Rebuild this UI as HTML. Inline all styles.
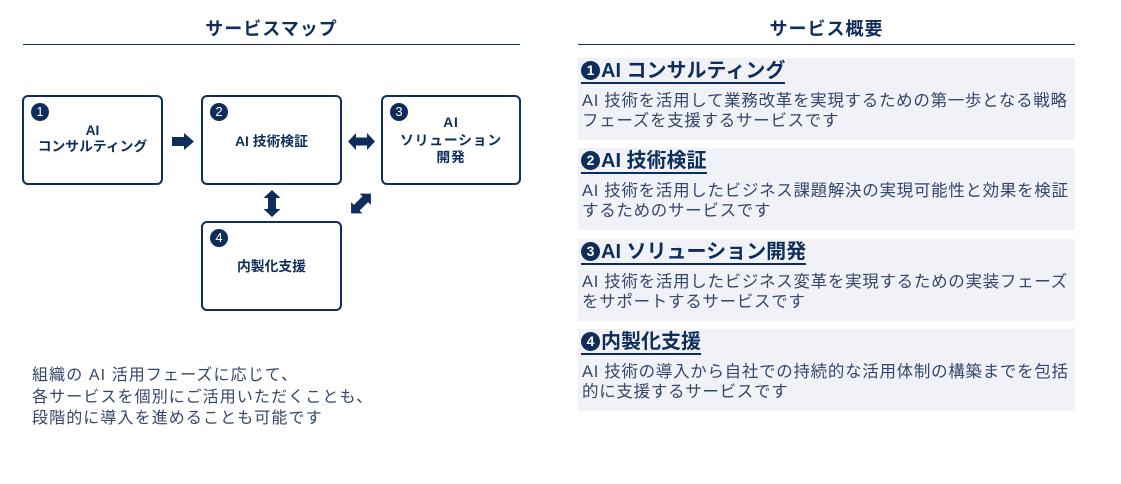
<!DOCTYPE html>
<html><head><meta charset="utf-8">
<style>
*{margin:0;padding:0;box-sizing:border-box}
html,body{width:1121px;height:484px;background:#fff;overflow:hidden}
body{position:relative;font-family:"Liberation Sans","Noto Sans CJK JP",sans-serif;color:#0e2d5b}
.abs{position:absolute;white-space:nowrap}
.title{font-size:18px;font-weight:bold;letter-spacing:1px;text-align:center;line-height:20px}
.rule{position:absolute;height:1px;background:#0e2d5b}
.box{position:absolute;border:2px solid #0e2d5b;border-radius:6px;background:#fff}
.num{position:absolute;width:18px;height:18px;border-radius:50%;background:#0e2d5b;color:#fff;font-size:13px;line-height:18px;text-align:center;font-family:"Liberation Sans",sans-serif}
.bt{position:absolute;left:0;width:100%;text-align:center;font-size:13.8px;font-weight:bold;line-height:17px;white-space:nowrap}
.panel{position:absolute;left:578px;width:497px;height:82px;background:#f0f2f8}
.ph{position:absolute;left:3px;top:3px;font-size:20px;font-weight:bold;line-height:21px;white-space:nowrap;border-bottom:2px solid #0e2d5b;padding-bottom:0}
.pc{display:inline-block;width:19px;height:19px;border-radius:50%;background:#0e2d5b;color:#fff;font-size:14px;line-height:19px;text-align:center;vertical-align:2px;margin-right:1px;font-family:"Liberation Sans",sans-serif}
.pb{position:absolute;left:4px;top:33px;font-size:16.5px;line-height:20px;letter-spacing:0.7px;color:#34466a;white-space:nowrap}
.cap{position:absolute;left:32px;top:365px;font-size:16px;line-height:21.5px;letter-spacing:1.1px;color:#34466a;white-space:nowrap}
</style></head><body>

<div class="abs title" style="left:23px;width:497px;top:19px">サービスマップ</div>
<div class="rule" style="left:23px;width:497px;top:44px"></div>

<div class="abs title" style="left:578px;width:497px;top:19px">サービス概要</div>
<div class="rule" style="left:578px;width:497px;top:44px"></div>

<!-- Box 1 -->
<div class="box" style="left:22px;top:95px;width:141px;height:90px">
  <div class="num" style="left:7px;top:6px">1</div>
  <div class="bt" style="top:26px;line-height:16px">AI<br>コンサルティング</div>
</div>
<!-- Box 2 -->
<div class="box" style="left:201px;top:95px;width:141px;height:90px">
  <div class="num" style="left:7px;top:6px">2</div>
  <div class="bt" style="top:36px">AI 技術検証</div>
</div>
<!-- Box 3 -->
<div class="box" style="left:381px;top:95px;width:140px;height:90px">
  <div class="num" style="left:7px;top:6px">3</div>
  <div class="bt" style="top:17px;line-height:17.5px;letter-spacing:0.8px">AI<br>ソリューション<br>開発</div>
</div>
<!-- Box 4 -->
<div class="box" style="left:201px;top:221px;width:141px;height:90px">
  <div class="num" style="left:7px;top:6px">4</div>
  <div class="bt" style="top:35px">内製化支援</div>
</div>

<svg class="abs" style="left:0;top:0" width="1121" height="484" viewBox="0 0 1121 484">
  <g fill="#0e2d5b">
    <polygon points="172,137 184,137 184,133 194,141.5 184,150 184,146 172,146"/>
    <polygon points="348,141.5 356,133 356,137.5 367,137.5 367,133 375,141.5 367,150 367,145.5 356,145.5 356,150"/>
    <polygon points="272,190 280.5,198 276,198 276,209 280.5,209 272,217 263.5,209 268,209 268,198 263.5,198"/>
    <g transform="translate(361,203.5) rotate(-45)">
      <polygon points="-14,0 -6,-8 -6,-4 6,-4 6,-8 14,0 6,8 6,4 -6,4 -6,8"/>
    </g>
  </g>
</svg>

<div class="cap">組織の AI 活用フェーズに応じて、<br>各サービスを個別にご活用いただくことも、<br>段階的に導入を進めることも可能です</div>

<div class="panel" style="top:58px">
  <div class="ph"><span class="pc">1</span>AI コンサルティング</div>
  <div class="pb">AI 技術を活用して業務改革を実現するための第一歩となる戦略<br>フェーズを支援するサービスです</div>
</div>
<div class="panel" style="top:148px">
  <div class="ph"><span class="pc">2</span>AI 技術検証</div>
  <div class="pb">AI 技術を活用したビジネス課題解決の実現可能性と効果を検証<br>するためのサービスです</div>
</div>
<div class="panel" style="top:239px">
  <div class="ph"><span class="pc">3</span>AI ソリューション開発</div>
  <div class="pb">AI 技術を活用したビジネス変革を実現するための実装フェーズ<br>をサポートするサービスです</div>
</div>
<div class="panel" style="top:329px">
  <div class="ph"><span class="pc">4</span>内製化支援</div>
  <div class="pb">AI 技術の導入から自社での持続的な活用体制の構築までを包括<br>的に支援するサービスです</div>
</div>

</body></html>
